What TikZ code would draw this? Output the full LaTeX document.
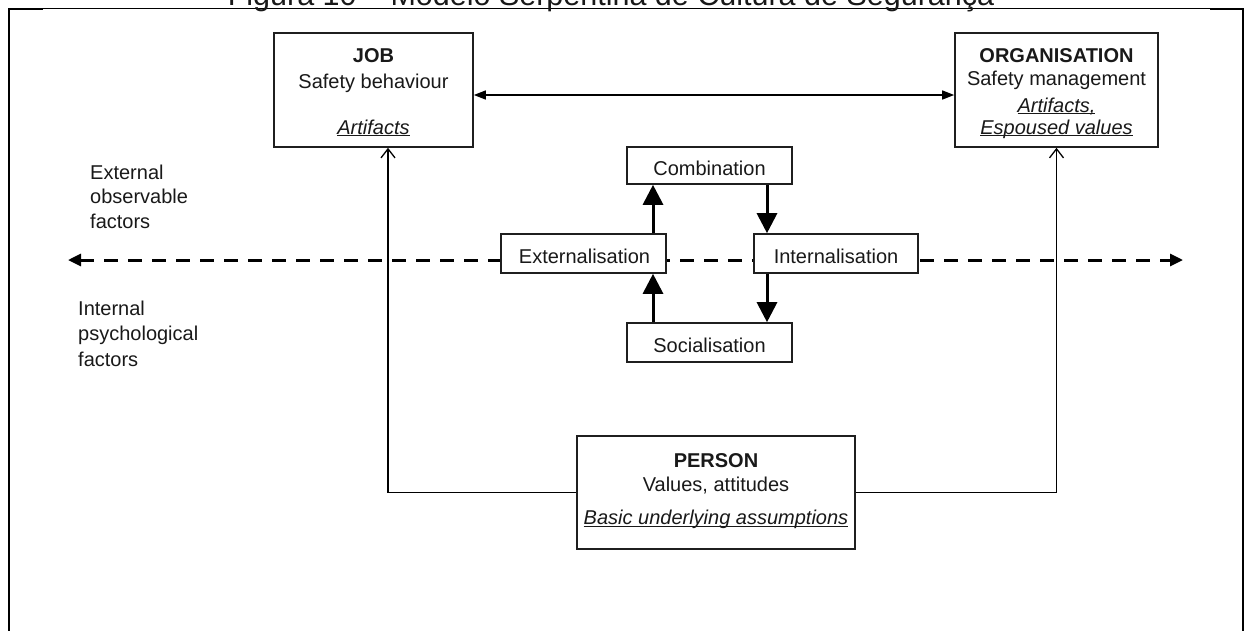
\documentclass[tikz,border=0pt]{standalone}
\usepackage{fontspec}
\setmainfont{Liberation Sans}
\usetikzlibrary{arrows.meta}
% underline sitting just under the baseline, crossing descenders
\newcommand{\undl}[1]{\setbox0\hbox{#1}\rlap{\rule[-2.4pt]{\wd0}{1pt}}\box0}
\begin{document}
\begin{tikzpicture}[x=1pt,y=-1pt,
  box/.style={draw=black!88, line width=1.6pt, fill=white, inner sep=0pt},
  txt/.style={anchor=base, inner sep=0pt, text=black!90, font=\fontsize{20}{24}\selectfont},
  hd/.style={txt, font=\fontsize{20}{24}\selectfont\bfseries},
  em/.style={txt, font=\fontsize{20}{24}\selectfont\itshape},
  side/.style={txt, anchor=base west},
  cyc/.style={line width=3pt, -{Triangle[length=20pt,width=20pt]}},
  link/.style={line width=1.3pt, -{Straight Barb[length=9pt,width=14pt,line width=1.3pt]}},
  both/.style={line width=1.4pt, {Triangle[length=12pt,width=9pt]}-{Triangle[length=12pt,width=9pt]}},
  border/.style={line width=2.6pt}
]
\useasboundingbox (0,0) rectangle (1247,630);
\clip (0,0) rectangle (1247,630);

% page frame and heading
\draw[line width=1pt] (9,8) -- (1243,8);
\draw[border] (43,9) -- (9,9) -- (9,634);
\draw[border] (1210,9) -- (1243,9) -- (1243,634);
\node[anchor=base, inner sep=0pt, text=black!90, font=\fontsize{30.5}{34}\selectfont] (title) at (611,5.5)
  {Figura 10 – Modelo Serpentina de Cultura de Segurança};

% dashed divider between observable and psychological factors
\coordinate (dl) at (68,260);
\coordinate (dr) at (1183,260);
\draw[line width=3pt, dash pattern=on 14pt off 10pt,
  {Triangle[length=13pt,width=12pt]}-{Triangle[length=13pt,width=12pt]}] (dl) -- (dr);

% main boxes
\node[box, minimum width=199pt, minimum height=114pt] (job) at (373.5,90) {};
\node[box, minimum width=203pt, minimum height=114pt] (org) at (1056.5,90) {};
\node[box, minimum width=278pt, minimum height=113pt] (person) at (716,492.5) {};

% knowledge-conversion cycle
\node[box, minimum width=165pt, minimum height=37pt] (comb) at (709.5,165.5) {};
\node[box, minimum width=165pt, minimum height=39pt] (ext) at (583.5,253.5) {};
\node[box, minimum width=164pt, minimum height=39pt] (int) at (836,253.5) {};
\node[box, minimum width=165pt, minimum height=39pt] (soc) at (709.5,342.5) {};

% box texts
\node[hd] (jobA) at (373.5,62) {JOB};
\node[txt] (jobB) at (373.5,88.5) {Safety behaviour};
\node[em] (jobC) at (373.5,134) {\undl{Artifacts}};

\node[hd] (orgA) at (1056.5,62) {ORGANISATION};
\node[txt] (orgB) at (1056.5,85) {Safety management};
\node[em] (orgC) at (1056.5,112) {\undl{Artifacts,}};
\node[em] (orgD) at (1056.5,134) {\undl{Espoused values}};

\node[hd] (perA) at (716,467) {PERSON};
\node[txt] (perB) at (716,491) {Values, attitudes};
\node[em] (perC) at (716,524.5) {\undl{Basic underlying assumptions}};

\node[txt] (combT) at (709.5,175) {Combination};
\node[txt] (extT) at (584.5,263) {Externalisation};
\node[txt] (intT) at (836,263) {Internalisation};
\node[txt] (socT) at (709.5,352) {Socialisation};

% side labels
\node[side] (e1) at (90,179) {External};
\node[side] (e2) at (90,203.5) {observable};
\node[side] (e3) at (90,228) {factors};
\node[side] (i1) at (78,315) {Internal};
\node[side] (i2) at (78,340.5) {psychological};
\node[side] (i3) at (78,366) {factors};

% connectors
\draw[both] ([yshift=-5pt]job.east) -- ([yshift=-5pt]org.west);
\draw[link] (person.west) -| ([xshift=14.5pt]job.south);
\draw[link] (person.east) -| (org.south);

\coordinate (xl) at (653,0);
\coordinate (xr) at (767,0);
\draw[cyc] (ext.north -| xl) -- (comb.south -| xl);
\draw[cyc] (soc.north -| xl) -- (ext.south -| xl);
\draw[cyc] (comb.south -| xr) -- (int.north -| xr);
\draw[cyc] (int.south -| xr) -- (soc.north -| xr);
\end{tikzpicture}
\end{document}
